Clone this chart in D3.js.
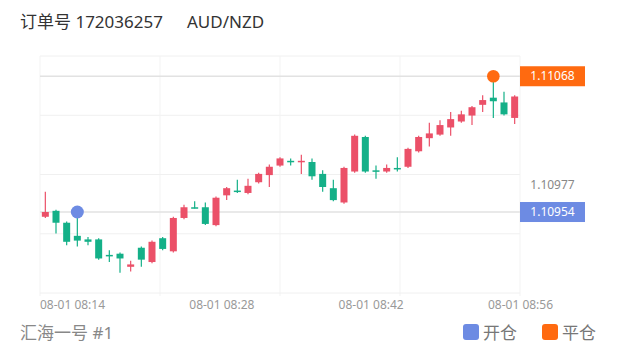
<!DOCTYPE html>
<html>
<head>
<meta charset="utf-8">
<script src="https://cdn.jsdelivr.net/npm/d3@7"></script>
<style>
html,body{margin:0;padding:0;background:#fff;}
svg{display:block;font-family:"Noto Sans","Noto Sans CJK SC",sans-serif;}
</style>
</head>
<body>
<svg id="chart" width="620" height="352"></svg>
<script>
// ---- data ----
const startTime = new Date(2023, 7, 1, 8, 11);
const opens  = [1.10950,1.10955,1.10945,1.10934,1.10931,1.10931,1.10918,1.10919,1.10908,1.10924,
                1.10912,1.10932,1.10921,1.10949,1.10958,1.10958,1.10943,1.10968,1.10972,1.10970,
                1.10979,1.10985,1.10993,1.10997,1.10996,1.10996,1.10986,1.10974,1.10962,1.10988,
                1.11017,1.10989,1.10988,1.10991,1.10992,1.11005,1.11016,1.11019,1.11025,1.11030,
                1.11035,1.11044,1.11050,1.11046,1.11033];
const closes = [1.10954,1.10945,1.10929,1.10930,1.10929,1.10915,1.10917,1.10915,1.10910,1.10914,
                1.10929,1.10923,1.10949,1.10958,1.10957,1.10944,1.10966,1.10974,1.10971,1.10976,
                1.10986,1.10992,1.10999,1.10996,1.10997,1.10984,1.10975,1.10964,1.10991,1.11018,
                1.10988,1.10988,1.10991,1.10990,1.11007,1.11017,1.11020,1.11027,1.11032,1.11036,
                1.11042,1.11048,1.11047,1.11036,1.11051];
const highs  = [1.10971,1.10956,1.10946,1.10954,1.10933,1.10932,1.10922,1.10920,1.10913,1.10925,
                1.10930,1.10933,1.10950,1.10960,1.10963,1.10962,1.10967,1.10975,1.10981,1.10982,
                1.10987,1.10994,1.11000,1.10999,1.11002,1.10999,1.10989,1.10981,1.10992,1.11019,
                1.11018,1.10993,1.10994,1.11000,1.11008,1.11018,1.11029,1.11031,1.11038,1.11039,
                1.11043,1.11052,1.11068,1.11055,1.11052];
const lows   = [1.10949,1.10936,1.10926,1.10925,1.10926,1.10914,1.10912,1.10903,1.10904,1.10908,
                1.10911,1.10922,1.10920,1.10948,1.10957,1.10943,1.10942,1.10964,1.10970,1.10969,
                1.10978,1.10975,1.10992,1.10993,1.10986,1.10981,1.10971,1.10963,1.10961,1.10987,
                1.10987,1.10982,1.10987,1.10988,1.10991,1.11004,1.11009,1.11018,1.11018,1.11029,
                1.11027,1.11038,1.11033,1.11035,1.11028];
const xTickTimes = ["08:14","08:28","08:42","08:56"];
const yAxisLabels = [1.10977];
const openTrade  = {index: 3,  price: 1.10954};
const closeTrade = {index: 42, price: 1.11068};
const titleOrder = "订单号 172036257";
const titleSymbol = "AUD/NZD";
const accountName = "汇海一号 #1";
const legendItems = ["开仓", "平仓"];

// ---- styles ----
const UP = "#eb5068", DOWN = "#14b088";
const OPEN_C = "#6d8be3", CLOSE_C = "#ff6a10";

const svg = d3.select("#chart");
const plot = {left: 40, right: 520, top: 56, bottom: 293};

const toTime = s => { const [h,m] = s.split(":").map(Number); return new Date(2023,7,1,h,m); };
const candleTime = i => new Date(startTime.getTime() + i*60000);
const endTime = new Date(startTime.getTime() + opens.length*60000);

const x = d3.scaleTime().domain([startTime, endTime]).range([plot.left, plot.right]);
const y = d3.scaleLinear().domain([1.10886, 1.11085]).range([plot.bottom, plot.top]);
const cx = i => x(new Date(candleTime(i).getTime() + 30000));

// grid (4x4 split)
const grid = svg.append("g");
d3.range(5).forEach(k => {
  const yy = plot.top + k*(plot.bottom-plot.top)/4;
  grid.append("line").attr("x1", plot.left).attr("x2", plot.right).attr("y1", yy).attr("y2", yy)
    .attr("stroke", "#f0f0f0").attr("stroke-width", 1);
  const xx = plot.left + k*(plot.right-plot.left)/4;
  grid.append("line").attr("x1", xx).attr("x2", xx).attr("y1", plot.top).attr("y2", plot.bottom+3)
    .attr("stroke", "#f3f3f3").attr("stroke-width", 1);
});

// price lines
[openTrade, closeTrade].forEach(t => {
  svg.append("line").attr("x1", plot.left).attr("x2", plot.right)
    .attr("y1", y(t.price)).attr("y2", y(t.price))
    .attr("stroke", "#e2e2e2").attr("stroke-width", 1.6);
});

// candles
const data = opens.map((o,i) => ({i, o, c: closes[i], h: highs[i], l: lows[i]}));
const bodyW = 7;
const cg = svg.append("g").selectAll("g").data(data).join("g");
cg.append("line")
  .attr("x1", d => cx(d.i)).attr("x2", d => cx(d.i))
  .attr("y1", d => y(d.h)).attr("y2", d => y(d.l))
  .attr("stroke", d => d.c >= d.o ? UP : DOWN).attr("stroke-width", 1.2);
cg.append("rect")
  .attr("x", d => cx(d.i) - bodyW/2).attr("width", bodyW)
  .attr("y", d => y(Math.max(d.o, d.c)))
  .attr("height", d => Math.max(1.5, Math.abs(y(d.o) - y(d.c))))
  .attr("fill", d => d.c >= d.o ? UP : DOWN);

// trade markers
svg.append("circle").attr("cx", cx(openTrade.index)).attr("cy", y(openTrade.price)).attr("r", 6.5).attr("fill", OPEN_C);
svg.append("circle").attr("cx", cx(closeTrade.index)).attr("cy", y(closeTrade.price)).attr("r", 6.3).attr("fill", CLOSE_C);

// right labels
[[closeTrade, CLOSE_C], [openTrade, OPEN_C]].forEach(([t, col]) => {
  svg.append("rect").attr("x", plot.right).attr("y", y(t.price) - 10).attr("width", 65).attr("height", 20).attr("fill", col);
  svg.append("text").attr("x", plot.right + 32.5).attr("y", y(t.price) + 4.2)
    .attr("text-anchor", "middle").attr("fill", "#fff").attr("font-size", 12)
    .text(t.price.toFixed(5));
});
yAxisLabels.forEach(v => {
  svg.append("text").attr("x", plot.right + 32.5).attr("y", y(v) + 4)
    .attr("text-anchor", "middle").attr("fill", "#888").attr("font-size", 12)
    .text(v.toFixed(5));
});

// x axis
const xAxis = d3.axisBottom(x).tickValues(xTickTimes.map(toTime))
  .tickFormat(d3.timeFormat("%m-%d %H:%M")).tickSize(0).tickPadding(7);
const ax = svg.append("g").attr("transform", `translate(0,${plot.bottom})`).call(xAxis);
ax.select(".domain").remove();
ax.selectAll("text").attr("fill", "#999").attr("font-size", 12).attr("font-family", "'Noto Sans','Noto Sans CJK SC',sans-serif");

// title
svg.append("text").attr("x", 20).attr("y", 28).attr("font-size", 17).attr("fill", "#333").text(titleOrder);
svg.append("text").attr("x", 187).attr("y", 28).attr("font-size", 17).attr("fill", "#333").text(titleSymbol);

// footer
svg.append("text").attr("x", 20).attr("y", 339).attr("font-size", 17).attr("fill", "#888").text(accountName);
const lg = svg.append("g");
[[OPEN_C, legendItems[0], 463], [CLOSE_C, legendItems[1], 542]].forEach(([col, label, lx]) => {
  lg.append("rect").attr("x", lx).attr("y", 324).attr("width", 16).attr("height", 16).attr("rx", 3).attr("fill", col);
  lg.append("text").attr("x", lx + 20).attr("y", 339).attr("font-size", 17).attr("fill", "#777").text(label);
});
</script>
</body>
</html>
